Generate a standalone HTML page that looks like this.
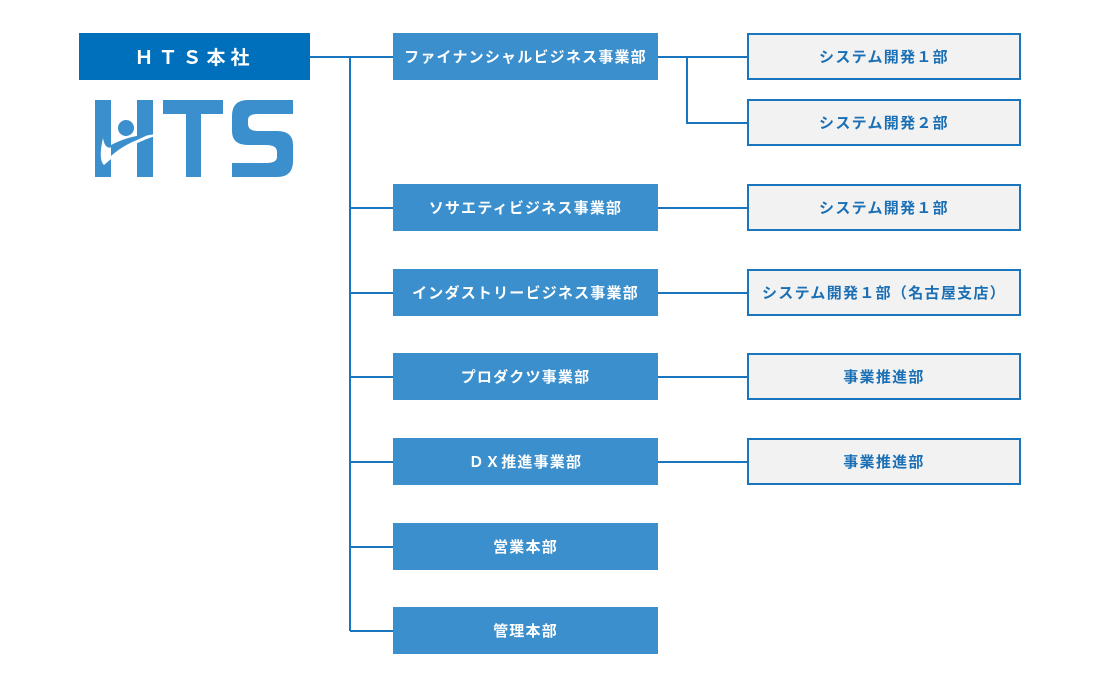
<!DOCTYPE html>
<html><head><meta charset="utf-8"><style>
body{margin:0;background:#fff;width:1100px;height:687px;position:relative;overflow:hidden;font-family:"Liberation Sans","Noto Sans CJK JP",sans-serif;font-weight:bold}
.b{position:absolute;display:flex;align-items:center;justify-content:center;box-sizing:border-box}
.hq{left:79px;top:33px;width:231px;height:47px;background:#0070bc;color:#fff;font-size:19px;letter-spacing:5px}
.m{left:393px;width:265px;height:47px;background:#3a8fcc;color:#fff;font-size:15px;letter-spacing:1.2px}
.r{left:747px;width:274px;height:47px;background:#f2f2f2;border:2px solid #1a75bc;color:#1a6fb5;font-size:15px;letter-spacing:1.3px}
</style></head><body>
<svg width="1100" height="687" style="position:absolute;left:0;top:0" fill="none" stroke="#1a75bc" stroke-width="2">
<path d="M310 57H393M350 57V631M350 208H393M350 293H393M350 377H393M350 462H393M350 547H393M350 631H393"/>
<path d="M658 57H747M687 57V123H747M658 208H747M658 293H747M658 377H747M658 462H747"/>
<g stroke="none" fill="#3a8fcc">
<rect x="95" y="100" width="16" height="77"/>
<rect x="137" y="100" width="16" height="77"/>
<rect x="163" y="100" width="60" height="14"/>
<rect x="186" y="100" width="15" height="77"/>
<path d="M293 100H248Q232 100 232 116V131Q232 145 248 145H266Q277 145 277 152V157Q277 163 266 163H232V177H277Q293 177 293 161V145Q293 131 277 131H258Q248 131 248 124V120Q248 114 258 114H293Z"/>
<circle cx="125" cy="126" r="9" fill="#fff"/>
<circle cx="126" cy="128" r="8"/>
<path d="M103 138Q98 160 104 165Q128 143 165 133Q125 137 112 147Q105 150 103 138Z" fill="#fff"/>
<path d="M111 145Q128 136 150 134L137 140Q122 146 111 156Z"/>
</g>
</svg>
<div class="b hq">ＨＴＳ本社</div>
<div class="b m" style="top:33px">ファイナンシャルビジネス事業部</div>
<div class="b m" style="top:184px">ソサエティビジネス事業部</div>
<div class="b m" style="top:269px">インダストリービジネス事業部</div>
<div class="b m" style="top:353px">プロダクツ事業部</div>
<div class="b m" style="top:438px">ＤＸ推進事業部</div>
<div class="b m" style="top:523px">営業本部</div>
<div class="b m" style="top:607px">管理本部</div>
<div class="b r" style="top:33px">システム開発１部</div>
<div class="b r" style="top:99px">システム開発２部</div>
<div class="b r" style="top:184px">システム開発１部</div>
<div class="b r" style="top:269px">システム開発１部（名古屋支店）</div>
<div class="b r" style="top:353px">事業推進部</div>
<div class="b r" style="top:438px">事業推進部</div>
</body></html>
